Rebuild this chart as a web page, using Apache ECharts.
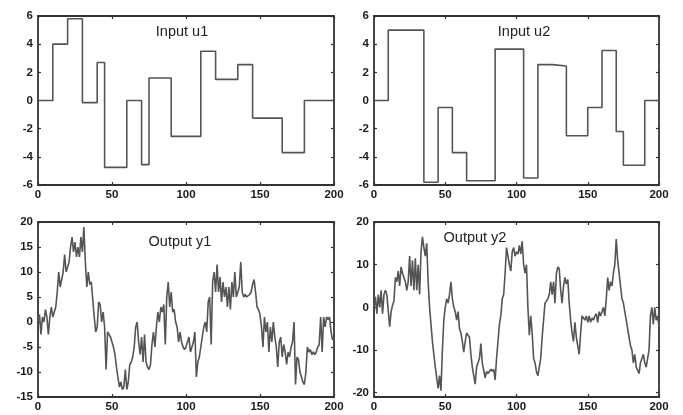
<!DOCTYPE html>
<html><head><meta charset="utf-8">
<script src="https://cdn.jsdelivr.net/npm/echarts@6/dist/echarts.min.js"></script>
<style>html,body{margin:0;padding:0;background:#fff}#c{width:683px;height:415px}</style>
</head><body><div id="c"></div>
<script>
const xTicks = [0, 50, 100, 150, 200];
const uTicks = [-6, -4, -2, 0, 2, 4, 6];
const y1Ticks = [-15, -10, -5, 0, 5, 10, 15, 20];
const y2Ticks = [-20, -10, 0, 10, 20];
const titles = ['Input u1', 'Input u2', 'Output y1', 'Output y2'];

// step inputs: change times and held levels
const u1Times  = [0, 10, 20, 30, 40, 45, 60, 70, 75, 90, 110, 120, 135, 145, 165, 180, 200];
const u1Levels = [0, 4, 5.8, -0.15, 2.7, -4.75, 0, -4.55, 1.6, -2.55, 3.5, 1.5, 2.55, -1.25, -3.7, 0, 0];
const u2Times  = [0, 10, 35, 45, 55, 65, 85, 105, 115, 125, 135, 150, 160, 170, 175, 190, 200];
const u2Levels = [0, 5, -5.8, -0.5, -3.7, -5.7, 3.65, -5.5, 2.55, 2.45, -2.5, -0.5, 3.55, -2.2, -4.6, 0, 0];

// outputs, sample k = 0..200
const y1 = [
 0, 1.5, -2.5, 1, 0, 2.5, 1, -2.5, 1, 3,
 1, 2, 3, 6, 10, 7, 7, 10, 13.5, 10,
 10, 12, 15, 17, 14, 16, 13, 15, 13, 17,
 14, 19, 12, 7, 10, 7.5, 8, 8, 1, -2,
 -1, 4, 3.5, 0, 2, -1, -9.5, -2, -2.5, -3,
 -4, -5, -6.5, -9, -11, -13, -12, -13.5, -13, -9.5,
 -13.5, -12, -8.5, -8, -7, -5, -1, 0, -4, -6.5,
 -3, -8, -2.5, -8, -9, -9.5, -8.5, -4.5, -2, -5,
 -1, 2, 0, 3, 2, 3.5, -4.5, 5, 8, 3,
 6, 2, 2.5, 0, -1, -4, -2, -4, -5, -5.5,
 -5, -4, -3, -6, -5, -4, -2, -11, -8, -7,
 -5, -3, -1, 0, -2, 4, 5, -4.5, 8, 10,
 6, 11.5, 6, 9, 4, 8, 5, 7, 3, 7,
 2.5, 8, 5, 10, 5, 6, 7, 12, 6, 5,
 5.5, 5, 5, 5.5, 6, 7.5, 8.5, 6, 3, 2.5,
 1.5, -1, -5, 1, -2, 0, -6, -1, -4, 0,
 -3, -5, -9, -4, -3, -7, -4.5, -6, -8.5, -6,
 -7, -5, -4, 0, -12.5, -7, -7.5, -10, -11, -12,
 -12.5, -10, -5, -6, -5.5, -6.5, -6, -6.5, -6, -5,
 -4.5, 1, -6, 1, -1, 1, 0.5, 1, -2, -3.5,
 -3.5
];
const y2 = [
 0, 2.5, -1.5, 3, 0, 4, -1.5, 3, 4, 3,
 3, -4.5, -1, 0.5, 1.5, 7, 6, 8.5, 5, 9.5,
 8, 7, 6, 4, 6, 12, 5, 11, 4, 11.5,
 4, 10, 3, 13, 16.5, 14, 12, 15, 6, 0,
 -4, -8, -11, -14, -16.5, -19, -16, -19.5, -10, -3,
 0, 2, 1, 3, 6, 2, 0, -1, -3, -1,
 -5, -6, -8, -10.5, -8, -6, -6.5, -7, -11, -14,
 -16, -18, -14, -13, -12, -8.5, -13, -13, -16.5, -15,
 -15.5, -15.5, -14.5, -15, -14.5, -17, -12, -8, -4, -2,
 2, 3, 8, 14, 12, 10, 8.5, 13, 14, 12,
 13, 12.5, 14.5, 12.5, 15.5, 10, 8, 10, 0, -6.5,
 -2, -6, -12, -13, -15, -16, -14, -12, -7, -3,
 1, 1, 2, 3, 6, 3, 6, 1, 8, 9.5,
 9, 4, 1, 5, 7, 5.5, 6.5, 1, -3, -6,
 -8, -3.5, -7, -9, -11, -6, -2, -2.5, -3, -2,
 -3.5, -2, -3.5, -2.5, -3, -2, -1.5, -3.5, -1, -2,
 -1, 0, -2, 2, 7, 4, 6, 5, 8, 10,
 16, 11, 8, 5, 2, 1, -1, -3, -5, -7,
 -9, -10, -13, -11, -14, -14, -15.5, -13, -12, -11,
 -13, -14, -12, -10, -2, 0, -4, 0, -3, -2,
 -4.5
];

const grids = [
  {left: 38, top: 16, width: 296, height: 169},
  {left: 374, top: 16, width: 285, height: 169},
  {left: 38, top: 222, width: 296, height: 175},
  {left: 374, top: 222, width: 285, height: 175}
];
const yRanges = [
  {min: -6, max: 6, ticks: uTicks},
  {min: -6, max: 6, ticks: uTicks},
  {min: -15, max: 20, ticks: y1Ticks},
  {min: -21, max: 20, ticks: y2Ticks}
];
const lineCol = '#555555';
const boxCol = '#333333';
const labelStyle = {color: '#1a1a1a', fontFamily: 'Liberation Sans, Arial, sans-serif', fontWeight: 'bold', fontSize: 11.5};

const xAxis = [], yAxis = [];
grids.forEach((g, i) => {
  const common = {
    type: 'value', gridIndex: i, splitLine: {show: false},
    axisLine: {show: true, onZero: false, lineStyle: {color: boxCol, width: 1.8}},
    axisTick: {show: true, inside: true, length: 3, lineStyle: {color: boxCol, width: 1.2}}
  };
  xAxis.push(Object.assign({}, common, {position: 'bottom', min: 0, max: 200,
    axisTick: Object.assign({}, common.axisTick, {customValues: xTicks}),
    axisLabel: Object.assign({margin: 4, customValues: xTicks}, labelStyle)}));
  xAxis.push(Object.assign({}, common, {position: 'top', min: 0, max: 200,
    axisTick: Object.assign({}, common.axisTick, {customValues: xTicks}),
    axisLabel: {show: false}}));
  const r = yRanges[i];
  yAxis.push(Object.assign({}, common, {position: 'left', min: r.min, max: r.max,
    axisTick: Object.assign({}, common.axisTick, {customValues: r.ticks}),
    axisLabel: Object.assign({margin: 5, customValues: r.ticks}, labelStyle)}));
  yAxis.push(Object.assign({}, common, {position: 'right', min: r.min, max: r.max,
    axisTick: Object.assign({}, common.axisTick, {customValues: r.ticks}),
    axisLabel: {show: false}}));
});

function stepData(times, levels) { return times.map((t, k) => [t, levels[k]]); }
function seqData(vals) { return vals.map((v, k) => [k, v]); }

const seriesData = [stepData(u1Times, u1Levels), stepData(u2Times, u2Levels), seqData(y1), seqData(y2)];
const series = seriesData.map((d, i) => ({
  type: 'line', xAxisIndex: i * 2, yAxisIndex: i * 2, data: d,
  step: i < 2 ? 'end' : false, symbol: 'none', silent: true, animation: false,
  lineStyle: {color: lineCol, width: 1.6}
}));

const titlePos = [[182, 32], [524, 32], [180, 242], [475, 238]];
const graphic = titles.map((t, i) => ({
  type: 'text', x: titlePos[i][0], y: titlePos[i][1], z: 100,
  style: {text: t, fill: '#222', font: '14.5px "Liberation Sans", Arial, sans-serif',
    textAlign: 'center', textVerticalAlign: 'middle'}
}));

const chart = echarts.init(document.getElementById('c'), null, {renderer: 'canvas'});
chart.setOption({
  backgroundColor: '#fff', animation: false,
  grid: grids, xAxis: xAxis, yAxis: yAxis, series: series, graphic: graphic
});
</script></body></html>
